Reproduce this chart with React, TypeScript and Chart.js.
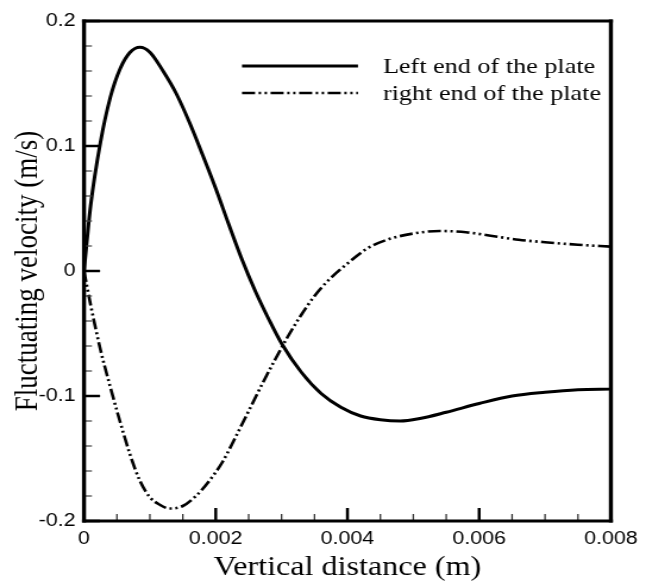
import React, { useEffect, useRef } from 'react';
import { Chart, registerables } from 'chart.js';

Chart.register(...registerables);

// ---- data ----
const X_LEFT = [0, 0.0001, 0.00025, 0.0004, 0.00055, 0.0007, 0.00085, 0.001, 0.0012, 0.0014, 0.0016, 0.0018, 0.002, 0.0022, 0.0024, 0.0026, 0.0028, 0.003, 0.0033, 0.0036, 0.0039, 0.0042, 0.0045, 0.0048, 0.0051, 0.0055, 0.006, 0.0065, 0.007, 0.0075, 0.008];
const Y_LEFT = [0, 0.052, 0.103, 0.139, 0.162, 0.175, 0.179, 0.175, 0.160, 0.142, 0.119, 0.093, 0.066, 0.037, 0.009, -0.016, -0.038, -0.058, -0.081, -0.098, -0.109, -0.116, -0.119, -0.120, -0.118, -0.113, -0.106, -0.100, -0.097, -0.095, -0.0945];

const X_RIGHT = [0, 0.0001, 0.00025, 0.0004, 0.00055, 0.0007, 0.00085, 0.001, 0.00115, 0.0013, 0.0015, 0.0017, 0.0019, 0.0021, 0.0023, 0.0025, 0.0027, 0.0029, 0.0031, 0.0033, 0.0035, 0.0037, 0.004, 0.0043, 0.0046, 0.005, 0.0054, 0.0058, 0.0062, 0.0066, 0.007, 0.0075, 0.008];
const Y_RIGHT = [0, -0.027, -0.063, -0.093, -0.121, -0.147, -0.168, -0.181, -0.187, -0.190, -0.188, -0.180, -0.168, -0.153, -0.133, -0.112, -0.091, -0.071, -0.052, -0.035, -0.020, -0.008, 0.006, 0.018, 0.025, 0.030, 0.032, 0.031, 0.028, 0.025, 0.023, 0.021, 0.0195];

const SERIES_NAMES = ['Left end of the plate', 'right end of the plate'];

const X_MIN = 0;
const X_MAX = 0.008;
const Y_MIN = -0.2;
const Y_MAX = 0.2;
const X_TICKS = [0, 0.002, 0.004, 0.006, 0.008];
const X_TICK_LABELS = ['0', '0.002', '0.004', '0.006', '0.008'];
const Y_TICKS = [-0.2, -0.1, 0, 0.1, 0.2];
const Y_TICK_LABELS = ['-0.2', '-0.1', '0', '0.1', '0.2'];
const X_MINOR_STEP = 0.0005;
const X_MINOR_PER_MAJOR = 4;
const Y_MINOR_STEP = 0.02;
const Y_MINOR_PER_MAJOR = 5;

const X_TITLE = 'Vertical distance (m)';
const Y_TITLE = 'Fluctuating velocity (m/s)';

// the reference figure is horizontally widened; the canvas is drawn narrower and widened the same way
const PAGE_W = 646;
const PAGE_H = 583;
const CANVAS_W = 543;
const STRETCH = PAGE_W / CANVAS_W;

const SERIF = '"Liberation Serif", "Times New Roman", serif';
const SANS = '"Liberation Sans", Arial, Helvetica, sans-serif';
const DASH_DOT_DOT = [11, 3, 2, 3, 2, 3];

const decorPlugin = {
  id: 'decor',
  afterDraw(chart: any) {
    const { ctx, chartArea: a, scales } = chart;
    const xs = scales.x;
    const ys = scales.y;
    ctx.save();
    ctx.strokeStyle = '#000';
    ctx.fillStyle = '#000';
    ctx.lineCap = 'butt';

    // inward tick marks on the bottom axis
    const nx = Math.round((X_MAX - X_MIN) / X_MINOR_STEP);
    for (let i = 0; i <= nx; i++) {
      const px = xs.getPixelForValue(X_MIN + i * X_MINOR_STEP);
      const major = i % X_MINOR_PER_MAJOR === 0;
      ctx.lineWidth = major ? 2.5 : 1.3;
      ctx.strokeStyle = major ? '#000' : '#333';
      ctx.beginPath();
      ctx.moveTo(px, a.bottom);
      ctx.lineTo(px, a.bottom - (major ? 13 : 7));
      ctx.stroke();
    }
    // inward tick marks on the left axis
    const ny = Math.round((Y_MAX - Y_MIN) / Y_MINOR_STEP);
    for (let i = 0; i <= ny; i++) {
      const py = ys.getPixelForValue(Y_MIN + i * Y_MINOR_STEP);
      const major = i % Y_MINOR_PER_MAJOR === 0;
      ctx.lineWidth = major ? 2.5 : 1.2;
      ctx.strokeStyle = major ? '#000' : '#444';
      ctx.beginPath();
      ctx.moveTo(a.left, py);
      ctx.lineTo(a.left + (major ? 13.5 : 6.7), py);
      ctx.stroke();
    }

    // frame
    ctx.strokeStyle = '#000';
    ctx.lineWidth = 3;
    ctx.beginPath();
    ctx.moveTo(a.left - 1.7, a.top);
    ctx.lineTo(a.right + 1.7, a.top);
    ctx.moveTo(a.left - 1.7, a.bottom);
    ctx.lineTo(a.right + 1.7, a.bottom);
    ctx.stroke();
    ctx.lineWidth = 3.4;
    ctx.beginPath();
    ctx.moveTo(a.left, a.top - 1.5);
    ctx.lineTo(a.left, a.bottom + 1.5);
    ctx.moveTo(a.right, a.top - 1.5);
    ctx.lineTo(a.right, a.bottom + 1.5);
    ctx.stroke();

    // legend
    const rows = [a.top + 45, a.top + 72];
    const lineX0 = a.left + 132.8;
    const lineX1 = a.left + 230.3;
    const textX = a.left + 251.3;
    chart.data.datasets.forEach((ds: any, i: number) => {
      ctx.save();
      ctx.lineWidth = ds.borderWidth;
      ctx.setLineDash(ds.borderDash || []);
      ctx.beginPath();
      ctx.moveTo(lineX0, rows[i]);
      ctx.lineTo(lineX1, rows[i]);
      ctx.stroke();
      ctx.restore();
      ctx.font = `22px ${SERIF}`;
      ctx.textAlign = 'left';
      ctx.textBaseline = 'middle';
      ctx.fillText(ds.label, textX, rows[i] + 1);
    });

    // axis titles
    ctx.font = `27px ${SERIF}`;
    ctx.textAlign = 'center';
    ctx.textBaseline = 'middle';
    ctx.fillText(X_TITLE, (a.left + a.right) / 2, 568);
    ctx.save();
    ctx.translate(23.5, (a.top + a.bottom) / 2);
    ctx.rotate(-Math.PI / 2);
    ctx.fillText(Y_TITLE, 0, 0);
    ctx.restore();

    ctx.restore();
  },
};

export default function App() {
  const canvasRef = useRef<HTMLCanvasElement | null>(null);

  useEffect(() => {
    const canvas = canvasRef.current;
    if (!canvas) return;
    const chart = new Chart(canvas, {
      type: 'line',
      data: {
        datasets: [
          {
            label: SERIES_NAMES[0],
            data: X_LEFT.map((x, i) => ({ x, y: Y_LEFT[i] })),
            borderColor: '#000',
            borderWidth: 3,
            pointRadius: 0,
            cubicInterpolationMode: 'monotone',
            fill: false,
          },
          {
            label: SERIES_NAMES[1],
            data: X_RIGHT.map((x, i) => ({ x, y: Y_RIGHT[i] })),
            borderColor: '#000',
            borderWidth: 2.6,
            borderDash: DASH_DOT_DOT,
            pointRadius: 0,
            cubicInterpolationMode: 'monotone',
            fill: false,
          },
        ],
      },
      options: {
        animation: false,
        responsive: false,
        maintainAspectRatio: false,
        events: [],
        layout: { padding: { left: 0, top: 21, right: CANVAS_W - 613 / STRETCH, bottom: 0 } },
        plugins: {
          legend: { display: false },
          tooltip: { enabled: false },
          title: { display: false },
        },
        scales: {
          x: {
            type: 'linear',
            min: X_MIN,
            max: X_MAX,
            grid: { display: false, drawTicks: false },
            border: { display: false },
            afterBuildTicks: (s: any) => {
              s.ticks = X_TICKS.map((v) => ({ value: v }));
            },
            afterFit: (s: any) => {
              s.height = 62;
            },
            ticks: {
              autoSkip: false,
              maxRotation: 0,
              minRotation: 0,
              padding: 7,
              color: '#000',
              font: { family: SANS, size: 18 },
              callback: (_v: any, i: number) => X_TICK_LABELS[i],
            },
          },
          y: {
            type: 'linear',
            min: Y_MIN,
            max: Y_MAX,
            grid: { display: false, drawTicks: false },
            border: { display: false },
            afterBuildTicks: (s: any) => {
              s.ticks = Y_TICKS.map((v) => ({ value: v }));
            },
            afterFit: (s: any) => {
              s.width = 84 / STRETCH;
            },
            ticks: {
              autoSkip: false,
              padding: 7,
              color: '#000',
              font: { family: SANS, size: 18 },
              callback: (_v: any, i: number) => Y_TICK_LABELS[i],
            },
          },
        },
      },
      plugins: [decorPlugin],
    } as any);
    return () => chart.destroy();
  }, []);

  return (
    <div style={{ position: 'fixed', left: 0, top: 0, width: PAGE_W, height: PAGE_H, overflow: 'hidden', background: '#fff' }}>
      <canvas
        ref={canvasRef}
        width={CANVAS_W}
        height={PAGE_H}
        style={{ display: 'block', width: CANVAS_W, height: PAGE_H, transform: `scaleX(${STRETCH})`, transformOrigin: '0 0' }}
      />
    </div>
  );
}
